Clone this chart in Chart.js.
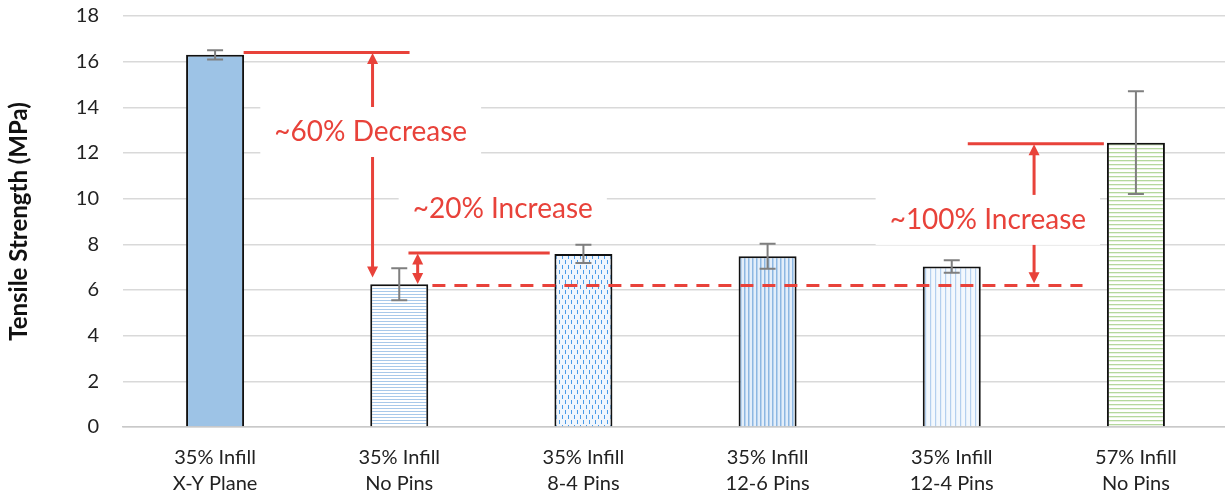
<!DOCTYPE html>
<html><head><meta charset="utf-8">
<script src="https://cdn.jsdelivr.net/npm/chart.js@4.4.1/dist/chart.umd.min.js"></script>
<style>html,body{margin:0;padding:0;background:#fff;overflow:hidden}
#wrap{width:1228px;height:500px;position:relative}
</style></head><body><div id="wrap"><canvas id="c"></canvas></div>
<script>
// ---- data ----
const categories = [["35% Infill","X-Y Plane"],["35% Infill","No Pins"],["35% Infill","8-4 Pins"],["35% Infill","12-6 Pins"],["35% Infill","12-4 Pins"],["57% Infill","No Pins"]];
const strength = [16.3, 6.25, 7.58, 7.48, 7.03, 12.45];
const errorPlusMinus = [0.2, 0.7, 0.4, 0.55, 0.27, 2.25];
const yTicks = [0, 2, 4, 6, 8, 10, 12, 14, 16, 18];
const yTitle = "Tensile Strength (MPa)";
const noteTexts = ["~60% Decrease", "~20% Increase", "~100% Increase"];

// annotation geometry in data units (x = category index, y = MPa)
const solidLines = [
  {x0:0.155, x1:1.056, y0:16.4, y1:16.4},
  {x0:1.05, x1:1.817, y0:7.62, y1:7.62},
  {x0:4.087, x1:4.826, y0:12.4, y1:12.4}
];
const dashedLines = [{x0:1.18, x1:4.71, y0:6.2, y1:6.2}];
const arrows = [
  {x:0.855, y0:16.38, y1:6.55},
  {x:1.10, y0:7.6, y1:6.26},
  {x:4.447, y0:12.38, y1:6.3}
];
const notes = [
  {x:0.845, y:12.92},
  {x:1.562, y:9.55},
  {x:4.196, y:9.07}
];

const RED = '#e8423a';

function makePattern(w, h, draw) {
  const c = document.createElement('canvas');
  c.width = w; c.height = h;
  const g = c.getContext('2d');
  g.fillStyle = '#fff'; g.fillRect(0, 0, w, h);
  draw(g);
  return document.getElementById('c').getContext('2d').createPattern(c, 'repeat');
}
const fills = [
  '#9dc3e6',
  makePattern(4, 3, g => { g.fillStyle = '#a8c9ea'; g.fillRect(0, 0, 4, 1); }),
  makePattern(6, 10, g => { g.fillStyle = '#f0f6fd'; g.fillRect(0,0,6,10); g.fillStyle = '#4a9ae8'; g.fillRect(1, 0, 1, 4); g.fillRect(4, 5, 1, 4); }),
  makePattern(4, 4, g => { g.fillStyle = '#e3eefa'; g.fillRect(0,0,4,4); g.fillStyle = '#8db7e2'; g.fillRect(0, 0, 1.5, 4); }),
  makePattern(5, 4, g => { g.fillStyle = '#f3f8fd'; g.fillRect(0,0,5,4); g.fillStyle = '#b3cfee'; g.fillRect(0, 0, 1.2, 4); }),
  makePattern(4, 4, g => { g.fillStyle = '#b5d89d'; g.fillRect(0, 0, 4, 1.3); })
];

const overlay = {
  id: 'overlay',
  afterDatasetsDraw(chart) {
    const ctx = chart.ctx, xs = chart.scales.x, ys = chart.scales.y;
    ctx.save();
    // error bars
    ctx.strokeStyle = '#7f7f7f'; ctx.lineWidth = 2;
    strength.forEach((v, i) => {
      const px = xs.getPixelForValue(i);
      const t = ys.getPixelForValue(v + errorPlusMinus[i]);
      const b = ys.getPixelForValue(v - errorPlusMinus[i]);
      ctx.beginPath();
      ctx.moveTo(px, t); ctx.lineTo(px, b);
      ctx.moveTo(px - 8, t); ctx.lineTo(px + 8, t);
      ctx.moveTo(px - 8, b); ctx.lineTo(px + 8, b);
      ctx.stroke();
    });
    // red lines
    ctx.strokeStyle = RED; ctx.lineWidth = 3;
    solidLines.forEach(l => {
      ctx.beginPath();
      ctx.moveTo(xs.getPixelForValue(l.x0), ys.getPixelForValue(l.y0));
      ctx.lineTo(xs.getPixelForValue(l.x1), ys.getPixelForValue(l.y1));
      ctx.stroke();
    });
    ctx.setLineDash([13, 9]);
    dashedLines.forEach(l => {
      ctx.beginPath();
      ctx.moveTo(xs.getPixelForValue(l.x0), ys.getPixelForValue(l.y0));
      ctx.lineTo(xs.getPixelForValue(l.x1), ys.getPixelForValue(l.y1));
      ctx.stroke();
    });
    ctx.setLineDash([]);
    // double arrows
    ctx.fillStyle = RED;
    arrows.forEach(a => {
      const px = xs.getPixelForValue(a.x);
      const t = ys.getPixelForValue(a.y0), b = ys.getPixelForValue(a.y1);
      const hl = 11, hw = 5.5;
      ctx.beginPath(); ctx.moveTo(px, t + hl - 1); ctx.lineTo(px, b - hl + 1); ctx.stroke();
      ctx.beginPath(); ctx.moveTo(px, t); ctx.lineTo(px - hw, t + hl); ctx.lineTo(px + hw, t + hl); ctx.closePath(); ctx.fill();
      ctx.beginPath(); ctx.moveTo(px, b); ctx.lineTo(px - hw, b - hl); ctx.lineTo(px + hw, b - hl); ctx.closePath(); ctx.fill();
    });
    // text notes with white boxes
    ctx.font = '28px Lato';
    ctx.textAlign = 'center'; ctx.textBaseline = 'middle';
    notes.forEach((n, i) => {
      const px = xs.getPixelForValue(n.x), py = ys.getPixelForValue(n.y);
      const w = ctx.measureText(noteTexts[i]).width;
      ctx.fillStyle = '#fff';
      ctx.fillRect(px - w / 2 - 14, py - 25, w + 28, 50);
      ctx.fillStyle = RED;
      ctx.fillText(noteTexts[i], px, py);
    });
    ctx.restore();
  }
};

new Chart(document.getElementById('c'), {
  type: 'bar',
  data: {
    labels: categories,
    datasets: [{
      data: strength,
      backgroundColor: fills,
      borderColor: '#111',
      borderWidth: 2,
      borderSkipped: 'bottom',
      barPercentage: 0.63,
      categoryPercentage: 0.5
    }]
  },
  options: {
    responsive: true,
    maintainAspectRatio: false,
    animation: false,
    layout: {padding: {top: 0, left: 0, right: 0, bottom: 0}},
    plugins: {legend: {display: false}, tooltip: {enabled: false}},
    scales: {
      x: {
        grid: {display: false},
        border: {color: '#c9c9c9', width: 1.5},
        ticks: {color: '#222', font: {family: 'Lato', size: 20, lineHeight: 1.3}, padding: 10, maxRotation: 0},
        afterFit(s) { s.height = 73; }
      },
      y: {
        min: 0, max: 18,
        afterBuildTicks(s) { s.ticks = yTicks.map(v => ({value: v})); },
        grid: {color: '#d9d9d9', lineWidth: 1.5, drawTicks: false},
        border: {display: false},
        ticks: {color: '#222', font: {family: 'Lato', size: 20}, padding: 24},
        title: {display: true, text: yTitle, color: '#111', font: {family: 'Lato', size: 24, weight: 'bold'}, padding: {top: 5, bottom: 0}},
        afterFit(s) { s.width = 123; s.paddingTop = 16; }
      }
    }
  },
  plugins: [overlay]
});
</script></body></html>
